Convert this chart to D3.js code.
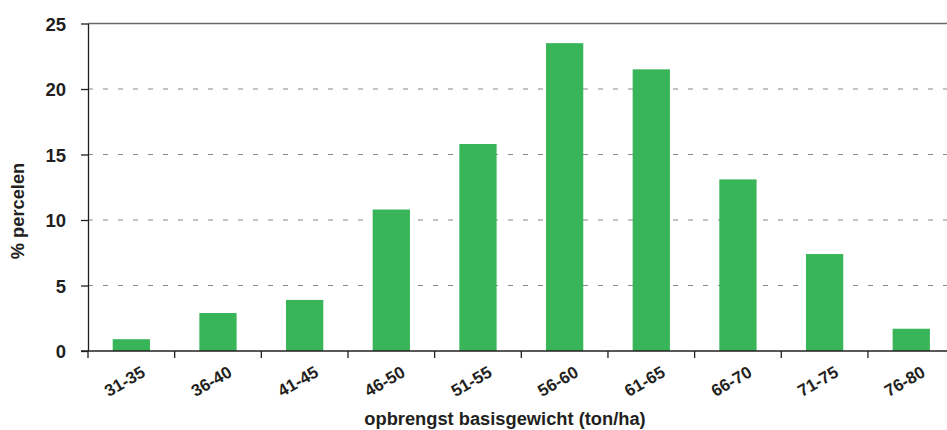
<!DOCTYPE html>
<html><head><meta charset="utf-8">
<script src="https://cdn.jsdelivr.net/npm/d3@7"></script>
<style>body{margin:0;background:#fff}svg{display:block}
text{font-family:"Liberation Sans Narrow","Arial Narrow","Liberation Sans",Arial,sans-serif;font-weight:bold;fill:#231f20}</style>
</head><body><svg id="c" width="947" height="430"></svg>
<script>
const categories = ["31-35","36-40","41-45","46-50","51-55","56-60","61-65","66-70","71-75","76-80"];
const values = [0.9, 2.9, 3.9, 10.8, 15.8, 23.5, 21.5, 13.1, 7.4, 1.7];
const yTicks = [0, 5, 10, 15, 20, 25];
const xTitle = "opbrengst basisgewicht (ton/ha)";
const yTitle = "% percelen";

(function () {
const svg = d3.select("#c");
const mLeft = 88, mRight = 954.6, mTop = 23.5, mBottom = 351;
const x = d3.scaleBand().domain(categories).range([mLeft, mRight]).paddingInner(0.57).paddingOuter(0.285);
const y = d3.scaleLinear().domain([0, 25]).range([mBottom, mTop]);

// gridlines
svg.append("g").selectAll("line").data(yTicks.filter(d => d > 0 && d < 25)).join("line")
  .attr("x1", mLeft).attr("x2", 947).attr("y1", d => y(d)).attr("y2", d => y(d))
  .attr("stroke", "#8a8a8a").attr("stroke-width", 1.2).attr("stroke-dasharray", "5,10");
svg.append("line").attr("x1", mLeft).attr("x2", 947).attr("y1", y(25)).attr("y2", y(25))
  .attr("stroke", "#6a6a6a").attr("stroke-width", 1.5);

// bars
svg.append("g").selectAll("rect").data(values).join("rect")
  .attr("x", (d, i) => x(categories[i])).attr("width", x.bandwidth())
  .attr("y", d => y(d)).attr("height", d => y(0) - y(d))
  .attr("fill", "#37b558");

// y axis
const yAxis = svg.append("g").attr("transform", `translate(${mLeft},0)`)
  .call(d3.axisLeft(y).tickValues(yTicks).tickSize(7).tickPadding(15).tickSizeOuter(0));
yAxis.attr("font-family", null).attr("font-size", null);
yAxis.select(".domain").attr("stroke", "#231f20").attr("stroke-width", 1.3);
yAxis.selectAll(".tick line").attr("stroke", "#231f20").attr("stroke-width", 1.3);
yAxis.selectAll("text").attr("font-size", 18.5).attr("dy", "0.36em");

// x axis
const step = x.step();
const bounds = d3.range(categories.length).map(i => mLeft + i * step);
svg.append("line").attr("x1", mLeft - 7).attr("x2", 947).attr("y1", mBottom).attr("y2", mBottom)
  .attr("stroke", "#231f20").attr("stroke-width", 1.3);
svg.append("g").selectAll("line").data(bounds).join("line")
  .attr("x1", d => d).attr("x2", d => d).attr("y1", mBottom).attr("y2", mBottom + 7)
  .attr("stroke", "#231f20").attr("stroke-width", 1.3);
svg.append("g").selectAll("text").data(categories).join("text")
  .attr("transform", d => `translate(${x(d) + x.bandwidth() / 2 + 9},${mBottom + 14}) rotate(-30)`)
  .attr("text-anchor", "end").attr("dy", "0.72em").attr("font-size", 17).text(d => d);

// titles
svg.append("text").attr("x", 505).attr("y", 425).attr("text-anchor", "middle").attr("font-size", 18.3).text(xTitle);
svg.append("text").attr("transform", "translate(24,211) rotate(-90)").attr("text-anchor", "middle").attr("font-size", 18.3).text(yTitle);
})();
</script></body></html>
